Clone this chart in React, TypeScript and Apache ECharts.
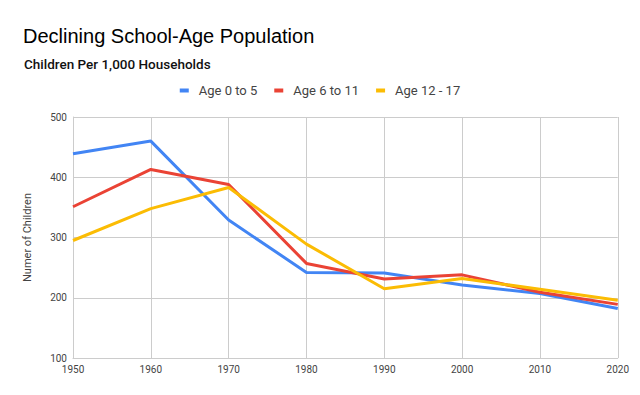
import React, { useEffect, useRef } from "react";
import * as echarts from "echarts";

const years = ["1950", "1960", "1970", "1980", "1990", "2000", "2010", "2020"];
const age0to5 = [439, 460, 329, 242, 241, 221, 207, 182];
const age6to11 = [351, 413, 388, 257, 231, 238, 209, 189];
const age12to17 = [295, 348, 383, 289, 215, 232, 214, 196];
const seriesNames = ["Age 0 to 5", "Age 6 to 11", "Age 12 - 17"];
const colors = ["#4285F4", "#EA4335", "#FBBC04"];

export default function App() {
  const ref = useRef<HTMLDivElement>(null);
  useEffect(() => {
    if (!ref.current) return;
    const chart = echarts.init(ref.current, undefined, { renderer: "svg" });
    const font = "Roboto, Arial, sans-serif";
    const data = [age0to5, age6to11, age12to17];
    chart.setOption({
      animation: false,
      title: [
        {
          text: "Declining School-Age Population",
          left: 10,
          top: 13,
          textStyle: { fontFamily: "Arial, 'Liberation Sans', sans-serif", fontSize: 20, fontWeight: "normal", color: "#000" },
        },
        {
          text: "Children Per 1,000 Households",
          left: 11,
          top: 44,
          textStyle: { fontFamily: font, fontSize: 13.5, fontWeight: 500, color: "#111" },
        },
      ],
      legend: {
        top: 71,
        left: "center",
        icon: "rect",
        itemWidth: 9,
        itemHeight: 4,
        itemGap: 17,
        data: seriesNames,
        textStyle: { fontFamily: font, fontSize: 13, color: "#444", padding: [0, 0, 0, 5] },
      },
      grid: { left: 65, right: 12, top: 109, bottom: 29, containLabel: false },
      xAxis: {
        type: "category",
        data: years,
        boundaryGap: false,
        axisLine: { show: true, lineStyle: { color: "#ccc" } },
        axisTick: { show: false },
        axisLabel: { fontFamily: font, fontSize: 10, color: "#444", margin: 6 },
        splitLine: { show: true, lineStyle: { color: "#ccc" } },
      },
      yAxis: {
        type: "value",
        min: 100,
        max: 500,
        interval: 100,
        name: "Numer of Children",
        nameLocation: "middle",
        nameRotate: 90,
        nameGap: 40,
        nameTextStyle: { fontFamily: font, fontSize: 11, color: "#444" },
        axisLine: { show: true, lineStyle: { color: "#ccc" } },
        axisTick: { show: false },
        axisLabel: { fontFamily: font, fontSize: 10, color: "#444", margin: 6 },
        splitLine: { show: true, lineStyle: { color: "#ccc" } },
      },
      series: seriesNames.map((name, i) => ({
        name,
        type: "line",
        data: data[i],
        symbol: "none",
        lineStyle: { width: 3, color: colors[i] },
        itemStyle: { color: colors[i] },
      })),
    });
    return () => chart.dispose();
  }, []);
  return <div ref={ref} style={{ width: 624, height: 379 }} />;
}
